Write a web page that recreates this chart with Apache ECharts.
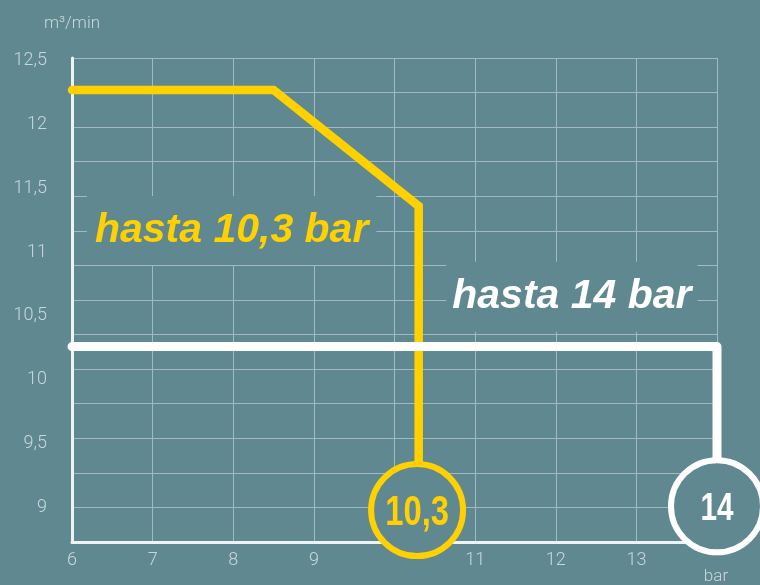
<!DOCTYPE html>
<html>
<head>
<meta charset="utf-8">
<script src="https://cdn.jsdelivr.net/npm/echarts@6/dist/echarts.min.js"></script>
<style>
  html, body { margin: 0; padding: 0; background: #608890; }
  #main { width: 760px; height: 585px; }
</style>
</head>
<body>
<div id="main"></div>
<script>
// datos
var xTicks = [6, 7, 8, 9, 10, 11, 12, 13, 14];
var xLabels = [6, 7, 8, 9, 11, 12, 13]; // 10 y 14 quedan tapados por los circulos
var yLabels = [9, 9.5, 10, 10.5, 11, 11.5, 12, 12.5];
var curve103 = [[6, 12.27], [8.5, 12.27], [10.3, 11.36], [10.3, 8.98]];
var curve14 = [[6, 10.26], [14, 10.26], [14, 9.01]];
var badgeNames = ['10,3', '14'];
var badgeValues = [[10.28, 8.98], [14, 9.01]];
var caption103 = [7.98, 11.17];
var caption14 = [12.2, 10.65];

var bg = '#608890';
var yellow = '#ffd100';
var white = '#ffffff';
var labelColor = '#c9d7da';
var gridColor = '#a3bbc0';
var axisFont = 'Roboto, "Liberation Sans", sans-serif';
var badgeColors = [yellow, white];
var badgeSizes = [42, 38];

var chart = echarts.init(document.getElementById('main'));

// circulos con el valor limite
function renderBadge(params, api) {
  var i = params.dataIndex;
  var p = api.coord([api.value(0), api.value(1)]);
  return {
    type: 'group',
    children: [
      {
        type: 'circle',
        shape: { cx: p[0], cy: p[1], r: 46 },
        style: { fill: bg, stroke: badgeColors[i], lineWidth: 6 }
      },
      {
        type: 'text',
        x: p[0],
        y: p[1] + 3,
        scaleX: 0.78,
        style: {
          text: badgeNames[i],
          fill: badgeColors[i],
          font: 'bold ' + badgeSizes[i] + 'px "Liberation Sans", Arial, sans-serif',
          align: 'center',
          verticalAlign: 'middle'
        }
      }
    ]
  };
}

var option = {
  backgroundColor: bg,
  animation: false,
  grid: { left: 72, right: 43, top: 58, bottom: 43 },
  xAxis: {
    type: 'value',
    min: xTicks[0],
    max: xTicks[xTicks.length - 1],
    interval: 1,
    axisLine: { show: true, lineStyle: { color: '#eef3f4', width: 3 } },
    axisTick: { show: false },
    axisLabel: { customValues: xLabels, color: labelColor, fontSize: 18, fontWeight: 300, fontFamily: axisFont, margin: 9 },
    splitLine: { show: true, lineStyle: { color: gridColor, width: 1 } }
  },
  yAxis: [
    {
      type: 'value',
      min: 8.73,
      max: 12.52,
      name: 'm³/min',
      nameLocation: 'end',
      nameGap: 26,
      nameTextStyle: { color: labelColor, fontSize: 17, fontWeight: 300, fontFamily: axisFont, align: 'center' },
      axisLine: { show: true, lineStyle: { color: '#eef3f4', width: 3 } },
      axisTick: { show: false },
      splitLine: { show: false },
      axisLabel: {
        customValues: yLabels,
        color: labelColor,
        fontSize: 18,
        fontWeight: 300,
        fontFamily: axisFont,
        margin: 25,
        formatter: function (v) { return String(v).replace('.', ','); }
      }
    },
    {
      // reticula de fondo (independiente de las etiquetas)
      type: 'value',
      min: 0,
      max: 14,
      interval: 1,
      position: 'right',
      axisLine: { show: false },
      axisTick: { show: false },
      axisLabel: { show: false },
      splitLine: { show: true, lineStyle: { color: gridColor, width: 1 } }
    }
  ],
  graphic: [
    {
      type: 'text',
      x: 716,
      y: 577,
      style: { text: 'bar', fill: labelColor, font: '300 17px ' + axisFont, align: 'center', verticalAlign: 'middle' }
    }
  ],
  series: [
    {
      name: 'hasta 10,3 bar',
      type: 'line',
      data: curve103,
      showSymbol: false,
      clip: false,
      z: 3,
      lineStyle: { color: yellow, width: 8.5, cap: 'round', join: 'miter' }
    },
    {
      name: 'hasta 14 bar',
      type: 'line',
      data: curve14,
      showSymbol: false,
      clip: false,
      z: 3,
      lineStyle: { color: white, width: 9, cap: 'round', join: 'round' }
    },
    {
      name: 'limites',
      type: 'custom',
      clip: false,
      z: 4,
      renderItem: renderBadge,
      data: badgeValues
    },
    {
      name: 'rotulos',
      type: 'scatter',
      clip: false,
      z: 2,
      symbolSize: 0,
      silent: true,
      itemStyle: { opacity: 1 },
      data: [
        {
          value: caption103,
          label: { show: true, position: 'inside', formatter: 'hasta 10,3 bar', color: yellow,
                   fontSize: 41, fontWeight: 'bold', fontStyle: 'italic', fontFamily: '"Liberation Sans", Arial, sans-serif',
                   lineHeight: 46, backgroundColor: bg, padding: [11, 8, 12, 8] }
        },
        {
          value: caption14,
          label: { show: true, position: 'inside', formatter: 'hasta 14 bar', color: white,
                   fontSize: 41, fontWeight: 'bold', fontStyle: 'italic', fontFamily: '"Liberation Sans", Arial, sans-serif',
                   lineHeight: 46, backgroundColor: bg, padding: [12, 6, 12, 6] }
        }
      ]
    }
  ]
};

chart.setOption(option);
</script>
</body>
</html>
